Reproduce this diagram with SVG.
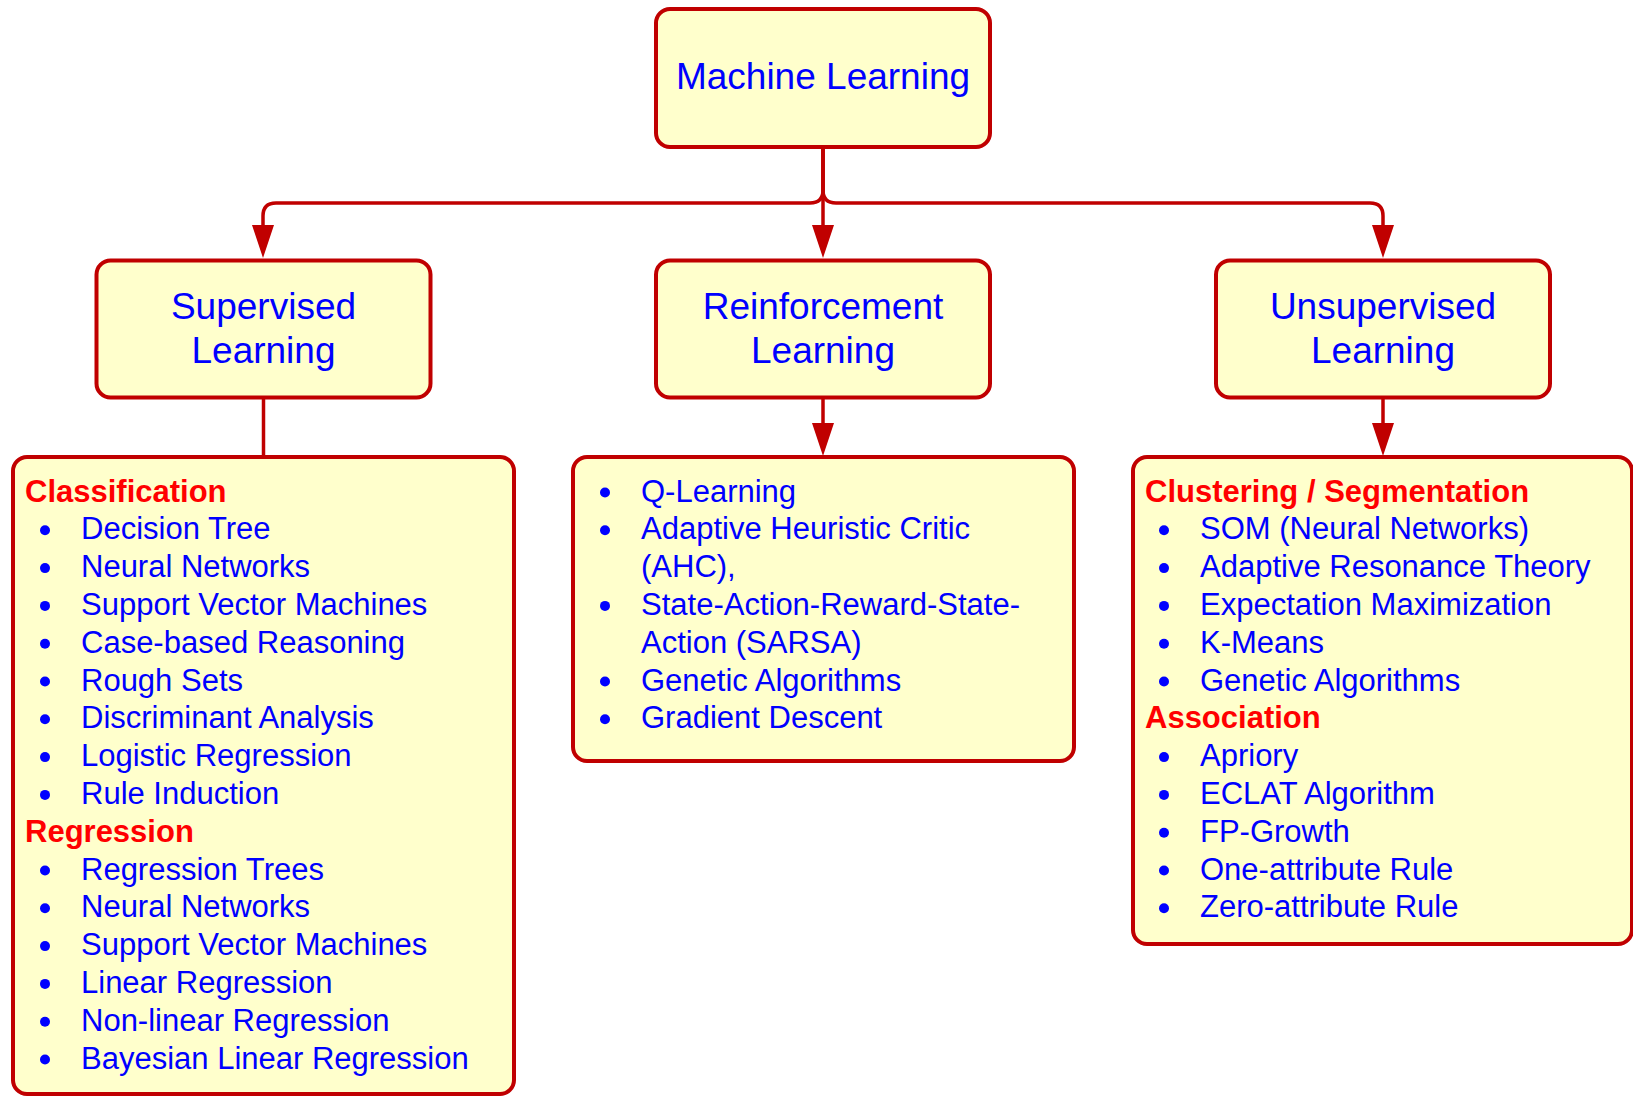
<svg xmlns="http://www.w3.org/2000/svg" width="1633" height="1096" viewBox="0 0 1633 1096">
<style>
.box{fill:#FFFFCC;stroke:#C00000;stroke-width:4}
.title{font-family:"Liberation Sans",Arial,sans-serif;font-size:37px;fill:#0000FF;text-anchor:middle}
.item{font-family:"Liberation Sans",Arial,sans-serif;font-size:31px;fill:#0000FF}
.head{font-family:"Liberation Sans",Arial,sans-serif;font-size:31px;font-weight:bold;fill:#FF0000}
.bul{fill:#0000FF}
.con{fill:none;stroke:#C00000;stroke-width:3.5}
.arr{fill:#C00000}
</style>
<rect width="1633" height="1096" fill="#FFFFFF"/>
<g id="connectors">
<path class="con" d="M823,148 V226"/>
<path class="con" d="M823,148 V190 Q823,203 810,203 H276 Q263,203 263,216 V226"/>
<path class="con" d="M823,148 V190 Q823,203 836,203 H1370 Q1383,203 1383,216 V226"/>
<polygon class="arr" points="252,225 274,225 263,258"/>
<polygon class="arr" points="812,225 834,225 823,258"/>
<polygon class="arr" points="1372,225 1394,225 1383,258"/>
<path class="con" d="M263.5,399 V457"/>
<path class="con" d="M823,399 V424"/>
<path class="con" d="M1383,399 V424"/>
<polygon class="arr" points="812,423 834,423 823,456"/>
<polygon class="arr" points="1372,423 1394,423 1383,456"/>
</g>
<g id="machine-learning">
<rect class="box" x="656" y="9" width="334" height="138" rx="14"/>
<text class="title" x="823" y="89">Machine Learning</text>
</g>
<g id="supervised">
<rect class="box" x="96.5" y="260.5" width="334" height="137" rx="14"/>
<text class="title" x="263.5" y="319">Supervised</text>
<text class="title" x="263.5" y="363">Learning</text>
</g>
<g id="reinforcement">
<rect class="box" x="656" y="260.5" width="334" height="137" rx="14"/>
<text class="title" x="823" y="319">Reinforcement</text>
<text class="title" x="823" y="363">Learning</text>
</g>
<g id="unsupervised">
<rect class="box" x="1216" y="260.5" width="334" height="137" rx="14"/>
<text class="title" x="1383" y="319">Unsupervised</text>
<text class="title" x="1383" y="363">Learning</text>
</g>
<g id="supervised-list">
<rect class="box" x="13" y="457" width="501" height="637" rx="14"/>
<text class="head" x="25" y="501.5">Classification</text>
<g class="bul">
<circle cx="45" cy="530.3" r="5"/><circle cx="45" cy="568.1" r="5"/><circle cx="45" cy="605.9" r="5"/><circle cx="45" cy="643.7" r="5"/><circle cx="45" cy="681.5" r="5"/><circle cx="45" cy="719.3" r="5"/><circle cx="45" cy="757.1" r="5"/><circle cx="45" cy="794.9" r="5"/>
<circle cx="45" cy="870.5" r="5"/><circle cx="45" cy="908.3" r="5"/><circle cx="45" cy="946.1" r="5"/><circle cx="45" cy="983.9" r="5"/><circle cx="45" cy="1021.7" r="5"/><circle cx="45" cy="1059.5" r="5"/>
</g>
<text class="item" x="81" y="539.3">Decision Tree</text>
<text class="item" x="81" y="577.1">Neural Networks</text>
<text class="item" x="81" y="614.9">Support Vector Machines</text>
<text class="item" x="81" y="652.7">Case-based Reasoning</text>
<text class="item" x="81" y="690.5">Rough Sets</text>
<text class="item" x="81" y="728.3">Discriminant Analysis</text>
<text class="item" x="81" y="766.1">Logistic Regression</text>
<text class="item" x="81" y="803.9">Rule Induction</text>
<text class="head" x="25" y="841.7">Regression</text>
<text class="item" x="81" y="879.5">Regression Trees</text>
<text class="item" x="81" y="917.3">Neural Networks</text>
<text class="item" x="81" y="955.1">Support Vector Machines</text>
<text class="item" x="81" y="992.9">Linear Regression</text>
<text class="item" x="81" y="1030.7">Non-linear Regression</text>
<text class="item" x="81" y="1068.5">Bayesian Linear Regression</text>
</g>
<g id="reinforcement-list">
<rect class="box" x="573" y="457" width="501" height="304" rx="14"/>
<g class="bul">
<circle cx="605" cy="492.5" r="5"/><circle cx="605" cy="530.3" r="5"/><circle cx="605" cy="605.9" r="5"/><circle cx="605" cy="681.5" r="5"/><circle cx="605" cy="719.3" r="5"/>
</g>
<text class="item" x="641" y="501.5">Q-Learning</text>
<text class="item" x="641" y="539.3">Adaptive Heuristic Critic</text>
<text class="item" x="641" y="577.1">(AHC),</text>
<text class="item" x="641" y="614.9">State-Action-Reward-State-</text>
<text class="item" x="641" y="652.7">Action (SARSA)</text>
<text class="item" x="641" y="690.5">Genetic Algorithms</text>
<text class="item" x="641" y="728.3">Gradient Descent</text>
</g>
<g id="unsupervised-list">
<rect class="box" x="1133" y="457" width="499" height="487" rx="14"/>
<text class="head" x="1145" y="501.5">Clustering / Segmentation</text>
<g class="bul">
<circle cx="1164" cy="530.3" r="5"/><circle cx="1164" cy="568.1" r="5"/><circle cx="1164" cy="605.9" r="5"/><circle cx="1164" cy="643.7" r="5"/><circle cx="1164" cy="681.5" r="5"/>
<circle cx="1164" cy="757.1" r="5"/><circle cx="1164" cy="794.9" r="5"/><circle cx="1164" cy="832.7" r="5"/><circle cx="1164" cy="870.5" r="5"/><circle cx="1164" cy="908.3" r="5"/>
</g>
<text class="item" x="1200" y="539.3">SOM (Neural Networks)</text>
<text class="item" x="1200" y="577.1">Adaptive Resonance Theory</text>
<text class="item" x="1200" y="614.9">Expectation Maximization</text>
<text class="item" x="1200" y="652.7">K-Means</text>
<text class="item" x="1200" y="690.5">Genetic Algorithms</text>
<text class="head" x="1145" y="728.3">Association</text>
<text class="item" x="1200" y="766.1">Apriory</text>
<text class="item" x="1200" y="803.9">ECLAT Algorithm</text>
<text class="item" x="1200" y="841.7">FP-Growth</text>
<text class="item" x="1200" y="879.5">One-attribute Rule</text>
<text class="item" x="1200" y="917.3">Zero-attribute Rule</text>
</g>
</svg>
